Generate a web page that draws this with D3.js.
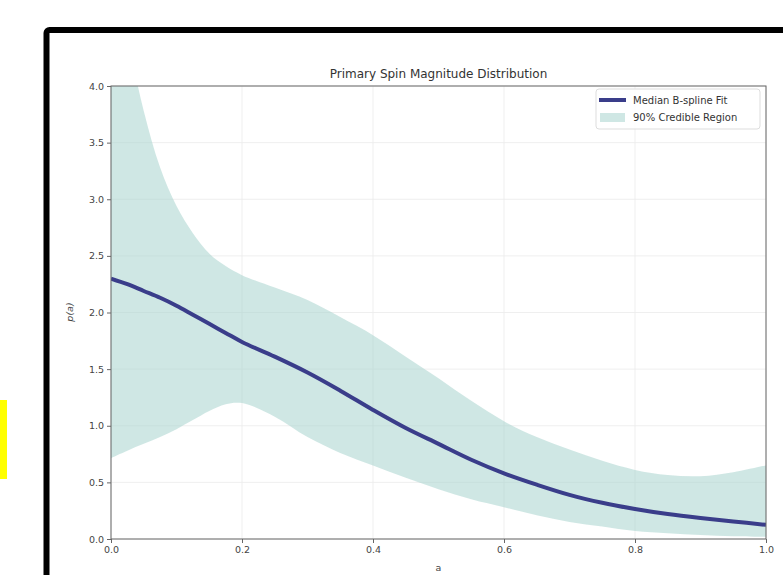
<!DOCTYPE html>
<html><head><meta charset="utf-8">
<script src="https://cdn.jsdelivr.net/npm/d3@7/dist/d3.min.js"></script>
<style>html,body{margin:0;padding:0;background:#fff;}svg{display:block;}</style>
</head><body>
<svg id="c" width="783" height="575"></svg>
<script>
const spin = [0,0.025,0.05,0.075,0.1,0.125,0.15,0.175,0.2,0.25,0.3,0.35,0.4,0.45,0.5,0.55,0.6,0.65,0.7,0.75,0.8,0.85,0.9,0.95,1.0];
const median = [2.30,2.25,2.19,2.13,2.06,1.98,1.90,1.82,1.74,1.61,1.47,1.31,1.14,0.98,0.84,0.70,0.58,0.48,0.39,0.32,0.265,0.22,0.185,0.155,0.125];
const upper = [5.3,4.45,3.78,3.28,2.94,2.70,2.52,2.41,2.33,2.22,2.11,1.96,1.80,1.61,1.42,1.22,1.04,0.90,0.79,0.69,0.61,0.565,0.555,0.59,0.65];
const lower = [0.715,0.78,0.84,0.90,0.97,1.05,1.13,1.19,1.20,1.08,0.90,0.76,0.65,0.54,0.44,0.35,0.28,0.21,0.15,0.11,0.07,0.05,0.035,0.025,0.02];
const xTicks = [0,0.2,0.4,0.6,0.8,1.0];
const yTicks = [0,0.5,1.0,1.5,2.0,2.5,3.0,3.5,4.0];
const title = "Primary Spin Magnitude Distribution";
const legendLabels = ["Median B-spline Fit","90% Credible Region"];

const svg = d3.select("#c");
const font = "DejaVu Sans, sans-serif";
svg.append("rect").attr("x",0).attr("y",400).attr("width",7).attr("height",79).attr("fill","#ffff00");
svg.append("rect").attr("x",46.5).attr("y",30).attr("width",800).attr("height",600).attr("rx",3)
  .attr("fill","none").attr("stroke","#000").attr("stroke-width",6);

const L=111,R=766,T=86,B=539;
const x = d3.scaleLinear().domain([0,1]).range([L,R]);
const y = d3.scaleLinear().domain([0,4]).range([B,T]);

const g = svg.append("g");
g.selectAll(".gx").data(xTicks).join("line").attr("x1",d=>x(d)).attr("x2",d=>x(d)).attr("y1",T).attr("y2",B)
  .attr("stroke","#ebebeb").attr("stroke-width",0.8);
g.selectAll(".gy").data(yTicks).join("line").attr("y1",d=>y(d)).attr("y2",d=>y(d)).attr("x1",L).attr("x2",R)
  .attr("stroke","#ebebeb").attr("stroke-width",0.8);

svg.append("clipPath").attr("id","clip").append("rect").attr("x",L).attr("y",T).attr("width",R-L).attr("height",B-T);
const data = spin.map((a,i)=>({a, m:median[i], u:upper[i], l:lower[i]}));
const curve = d3.curveCatmullRom.alpha(0.5);
const plot = svg.append("g").attr("clip-path","url(#clip)");
plot.append("path").datum(data)
  .attr("d", d3.area().x(d=>x(d.a)).y0(d=>y(d.l)).y1(d=>y(d.u)).curve(curve))
  .attr("fill","#a8d3ce").attr("fill-opacity",0.55);
plot.append("path").datum(data)
  .attr("d", d3.line().x(d=>x(d.a)).y(d=>y(d.m)).curve(curve))
  .attr("fill","none").attr("stroke","#3a3d8a").attr("stroke-width",4);

svg.append("rect").attr("x",L).attr("y",T).attr("width",R-L).attr("height",B-T)
  .attr("fill","none").attr("stroke","#666").attr("stroke-width",1);

const xa = svg.append("g").attr("transform",`translate(0,${B})`)
  .call(d3.axisBottom(x).tickValues(xTicks).tickFormat(d3.format(".1f")).tickSize(4).tickPadding(3));
const ya = svg.append("g").attr("transform",`translate(${L},0)`)
  .call(d3.axisLeft(y).tickValues(yTicks).tickFormat(d3.format(".1f")).tickSize(4).tickPadding(3));
[xa,ya].forEach(a=>{
  a.select(".domain").remove();
  a.selectAll("line").attr("stroke","#666");
  a.selectAll("text").attr("font-family",font).attr("font-size",9.5).attr("fill","#444");
});

svg.append("text").attr("x",(L+R)/2).attr("y",78).attr("text-anchor","middle")
  .attr("font-family",font).attr("font-size",12).attr("fill","#333").text(title);
svg.append("text").attr("x",(L+R)/2).attr("y",571).attr("text-anchor","middle")
  .attr("font-family",font).attr("font-size",9.5).attr("fill","#444").text("a");
svg.append("text").attr("transform","translate(73,312) rotate(-90)").attr("text-anchor","middle")
  .attr("font-family",font).attr("font-size",9.5).attr("font-style","italic").attr("fill","#444").text("p(a)");

const lg = svg.append("g");
lg.append("rect").attr("x",596).attr("y",89).attr("width",164).attr("height",40).attr("rx",3)
  .attr("fill","#fff").attr("fill-opacity",0.85).attr("stroke","#ddd").attr("stroke-width",1);
lg.append("line").attr("x1",599).attr("x2",626).attr("y1",100).attr("y2",100).attr("stroke","#3a3d8a").attr("stroke-width",4);
lg.append("rect").attr("x",600).attr("y",113).attr("width",25).attr("height",9).attr("fill","#a8d3ce").attr("fill-opacity",0.55);
lg.selectAll("text").data(legendLabels).join("text").attr("x",633).attr("y",(d,i)=>104+i*17)
  .attr("font-family",font).attr("font-size",10).attr("fill","#333").text(d=>d);
</script>
</body></html>
